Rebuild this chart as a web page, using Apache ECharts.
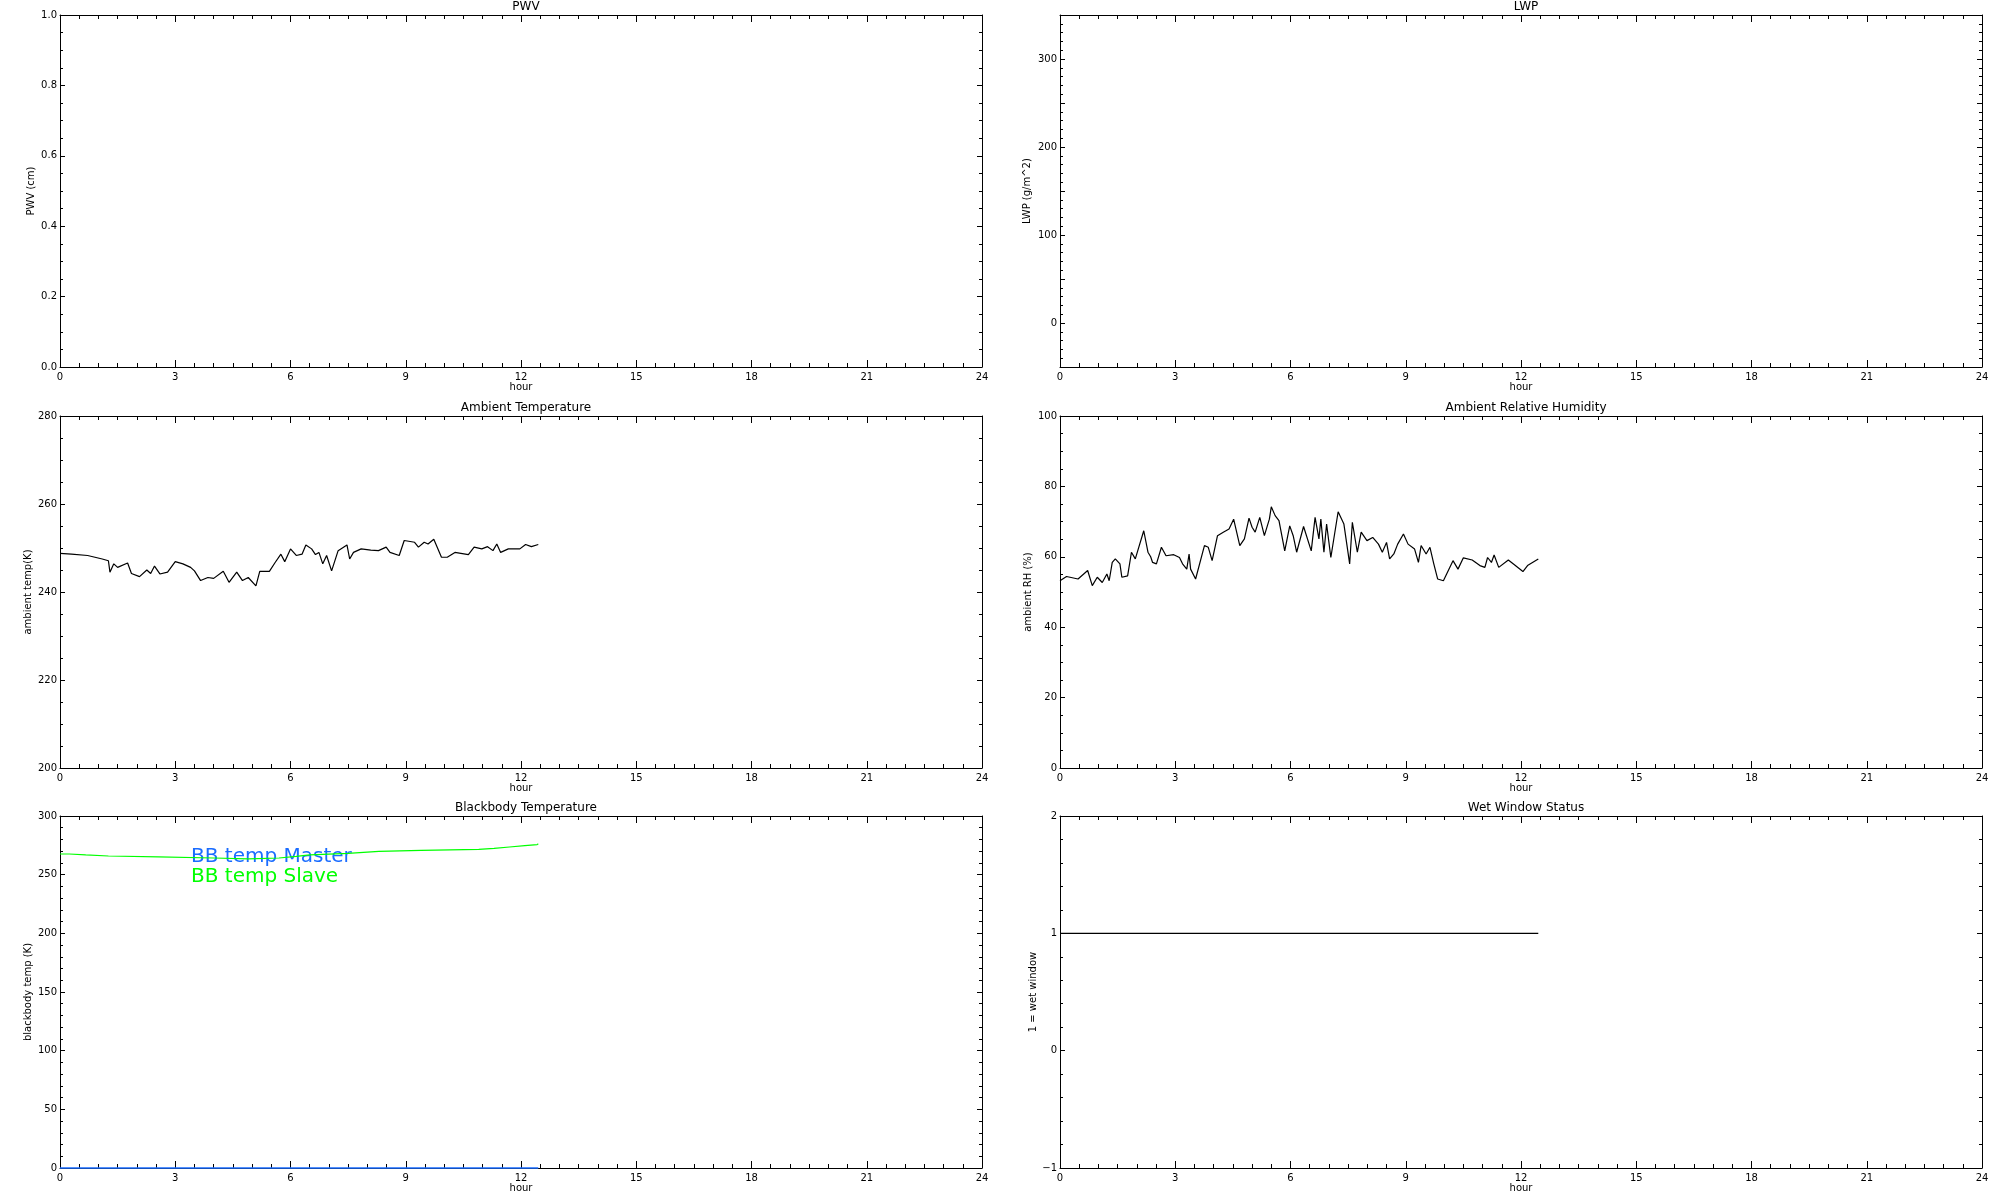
<!DOCTYPE html>
<html>
<head>
<meta charset="utf-8">
<script src="https://cdn.jsdelivr.net/npm/echarts@6/dist/echarts.min.js"></script>
<style>
  html, body { margin: 0; padding: 0; background: #fff; }
  #main { width: 2000px; height: 1200px; }
</style>
</head>
<body>
<div id="main"></div>
<script>
// ambient temperature (K) vs hour
const tempHours = [0, 0.3, 0.72, 1.1, 1.26, 1.3, 1.4, 1.5, 1.76, 1.86, 2.07, 2.26, 2.36, 2.46, 2.6, 2.8, 3.0, 3.2, 3.4, 3.5,
  3.66, 3.85, 4.0, 4.25, 4.4, 4.6, 4.75, 4.9, 5.1, 5.2, 5.45, 5.6, 5.75, 5.85, 6.0, 6.15, 6.3, 6.4, 6.55, 6.65,
  6.74, 6.84, 6.94, 7.07, 7.24, 7.47, 7.54, 7.64, 7.84, 8.09, 8.29, 8.49, 8.59, 8.83, 8.96, 9.23, 9.33, 9.48, 9.58, 9.73,
  9.93, 10.08, 10.28, 10.63, 10.78, 10.98, 11.13, 11.27, 11.37, 11.47, 11.67, 11.97, 12.12, 12.27, 12.45]
const tempValues = [248.8, 248.6, 248.3, 247.5, 247.1, 244.5, 246.4, 245.6, 246.6, 244.2, 243.5, 245.0, 244.2, 245.9, 244.1, 244.5, 246.9, 246.4, 245.6, 244.8,
  242.6, 243.3, 243.1, 244.7, 242.2, 244.5, 242.6, 243.3, 241.4, 244.7, 244.7, 246.7, 248.6, 246.9, 249.8, 248.3, 248.6, 250.7, 249.8, 248.5,
  249.0, 246.4, 248.3, 244.8, 249.4, 250.7, 247.5, 249.0, 249.8, 249.5, 249.4, 250.2, 249.0, 248.3, 251.7, 251.3, 250.2, 251.3, 250.9, 252.0,
  247.9, 247.9, 249.0, 248.5, 250.2, 249.8, 250.3, 249.4, 250.9, 249.0, 249.8, 249.8, 250.8, 250.3, 250.8]

// ambient relative humidity (%) vs hour
const rhHours = [0, 0.17, 0.47, 0.72, 0.84, 0.97, 1.1, 1.22, 1.28, 1.36, 1.44, 1.56, 1.61, 1.76, 1.86, 1.96, 2.18, 2.29, 2.36, 2.41,
  2.51, 2.64, 2.76, 2.96, 3.11, 3.19, 3.3, 3.36, 3.4, 3.53, 3.76, 3.86, 3.96, 4.1, 4.25, 4.4, 4.52, 4.68, 4.8, 4.92,
  5.0, 5.08, 5.2, 5.32, 5.45, 5.5, 5.6, 5.7, 5.85, 5.98, 6.07, 6.16, 6.34, 6.54, 6.64, 6.74, 6.79, 6.87, 6.94, 7.05,
  7.24, 7.39, 7.54, 7.61, 7.74, 7.84, 7.99, 8.14, 8.29, 8.39, 8.5, 8.58, 8.69, 8.79, 8.94, 9.06, 9.23, 9.33, 9.4, 9.53,
  9.63, 9.73, 9.83, 9.98, 10.23, 10.36, 10.5, 10.73, 10.93, 11.06, 11.13, 11.23, 11.3, 11.42, 11.67, 11.82, 12.05, 12.17, 12.45]
const rhValues = [53.2, 54.4, 53.7, 56.1, 51.8, 54.2, 52.7, 55.1, 53.2, 58.4, 59.4, 58.0, 54.2, 54.6, 61.3, 59.4, 67.4, 61.3, 60.0, 58.4,
  58.0, 62.7, 60.3, 60.6, 59.8, 58.0, 56.5, 60.8, 56.5, 53.7, 63.2, 62.7, 58.9, 66.0, 67.0, 67.9, 70.7, 63.2, 65.1, 71.0,
  68.4, 67.0, 71.2, 66.0, 70.7, 74.2, 71.7, 70.3, 61.7, 68.8, 66.0, 61.3, 68.6, 61.7, 71.2, 65.1, 70.7, 61.3, 69.3, 59.8,
  72.8, 69.3, 58.0, 69.8, 61.3, 67.0, 64.6, 65.5, 63.6, 61.3, 64.1, 59.4, 60.8, 63.6, 66.5, 63.6, 62.2, 58.4, 63.2, 60.8,
  62.7, 58.0, 53.7, 53.2, 58.9, 56.5, 59.7, 59.1, 57.5, 57.0, 59.8, 58.4, 60.5, 57.0, 59.1, 57.8, 55.8, 57.5, 59.4]

// blackbody temperatures (K) vs hour
const bbHours = [0, 0.24, 0.67, 1.26, 2.56, 4.0, 4.9, 5.7, 6.15, 6.5, 7.5, 8.3, 9.4, 10.9, 11.3, 11.7, 12.1, 12.42, 12.45]
const bbSlave = [267.6, 266.8, 265.9, 265.1, 264.2, 263.4, 264.2, 265.6, 266.8, 268.2, 269.9, 270.7, 271.6, 272.4, 273.6, 274.7, 275.6, 276.4, 276.4]
const bbMaster = [0, 0, 0, 0, 0, 0, 0, 0, 0, 0, 0, 0, 0, 0, 0, 0, 0, 0, 0]

// wet window flag vs hour
const wetHours = [0, 12.45]
const wetValues = [1, 1]

const hourTicks = [0, 24, 3]

const FONT = 'DejaVu Sans'
const masterColor = '#1a6cff'
const slaveColor = '#00ff00'

const panels = [
  { title: 'PWV', left: 60, top: 15, name: 'PWV (cm)', gap: 24, min: 0, max: 1, interval: 0.2, minor: 4, fmt: v => v.toFixed(1) },
  { title: 'LWP', left: 1060, top: 15, name: 'LWP (g/m^2)', gap: 28, min: -50, max: 350, interval: 50, minor: 5, fmt: v => (v % 100 === 0 ? String(v) : '') },
  { title: 'Ambient Temperature', left: 60, top: 416, name: 'ambient temp(K)', gap: 27, min: 200, max: 280, interval: 20, minor: 4 },
  { title: 'Ambient Relative Humidity', left: 1060, top: 416, name: 'ambient RH (%)', gap: 27, min: 0, max: 100, interval: 20, minor: 4 },
  { title: 'Blackbody Temperature', left: 60, top: 816, name: 'blackbody temp (K)', gap: 27, min: 0, max: 300, interval: 50, minor: 5 },
  { title: 'Wet Window Status', left: 1060, top: 816, name: '1 = wet window', gap: 22, min: -1, max: 2, interval: 1, minor: 5, fmt: v => (v < 0 ? '\u2212' + Math.abs(v) : String(v)) },
]
const W = 922
const H = 352

function pairs(xs, ys) {
  return xs.map((x, i) => [x, ys[i]])
}

const grid = []
const xAxis = []
const yAxis = []
const title = []
panels.forEach((p, i) => {
  grid.push({ left: p.left, top: p.top, width: W, height: H })
  title.push({
    text: p.title,
    left: p.left + W / 2,
    top: p.top - 19,
    textAlign: 'center',
    textStyle: { fontFamily: FONT, fontSize: 12, fontWeight: 'normal', color: '#000' },
  })
  const xBase = {
    gridIndex: i,
    type: 'value',
    min: hourTicks[0],
    max: hourTicks[1],
    interval: hourTicks[2],
    splitLine: { show: false },
    axisLine: { show: true, onZero: false, lineStyle: { color: '#000', width: 1 } },
    axisTick: { show: true, inside: true, length: 7, lineStyle: { color: '#000' } },
    minorTick: { show: true, splitNumber: 6, length: 4, lineStyle: { color: '#000' } },
  }
  xAxis.push({
    ...xBase,
    position: 'bottom',
    name: 'hour',
    nameLocation: 'middle',
    nameGap: 15,
    nameTextStyle: { fontFamily: FONT, fontSize: 10, color: '#000' },
    axisLabel: { show: true, margin: 5, fontFamily: FONT, fontSize: 10, color: '#000' },
  })
  xAxis.push({ ...xBase, position: 'top', axisLabel: { show: false } })
  const yBase = {
    gridIndex: i,
    type: 'value',
    min: p.min,
    max: p.max,
    interval: p.interval,
    splitLine: { show: false },
    axisLine: { show: true, onZero: false, lineStyle: { color: '#000', width: 1 } },
    axisTick: { show: true, inside: true, length: 5, lineStyle: { color: '#000' } },
    minorTick: { show: true, splitNumber: p.minor, length: 3, lineStyle: { color: '#000' } },
  }
  yAxis.push({
    ...yBase,
    position: 'left',
    name: p.name,
    nameLocation: 'middle',
    nameRotate: 90,
    nameGap: p.gap,
    nameTextStyle: { fontFamily: FONT, fontSize: 10, color: '#000' },
    axisLabel: { show: true, margin: 3, fontFamily: FONT, fontSize: 10, color: '#000', formatter: p.fmt },
  })
  yAxis.push({ ...yBase, position: 'right', axisLabel: { show: false } })
})

function line(panel, xs, ys, color) {
  return {
    type: 'line',
    xAxisIndex: panel * 2,
    yAxisIndex: panel * 2,
    data: pairs(xs, ys),
    showSymbol: false,
    symbol: 'none',
    lineStyle: { color: color, width: 1.2 },
    z: 5,
  }
}

const option = {
  animation: false,
  backgroundColor: '#fff',
  title: title,
  grid: grid,
  xAxis: xAxis,
  yAxis: yAxis,
  series: [
    line(2, tempHours, tempValues, '#000'),
    line(3, rhHours, rhValues, '#000'),
    { ...line(4, bbHours, bbMaster, masterColor), clip: false, lineStyle: { color: masterColor, width: 1.6 } },
    { ...line(4, bbHours, bbSlave, slaveColor), step: 'end' },
    line(5, wetHours, wetValues, '#000'),
  ],
  graphic: [
    { type: 'text', left: 191, top: 847, style: { text: 'BB temp Master', fill: masterColor, font: '20px "DejaVu Sans"' } },
    { type: 'text', left: 191, top: 867, style: { text: 'BB temp Slave', fill: slaveColor, font: '20px "DejaVu Sans"' } },
  ],
}

const chart = echarts.init(document.getElementById('main'))
chart.setOption(option)
</script>
</body>
</html>
